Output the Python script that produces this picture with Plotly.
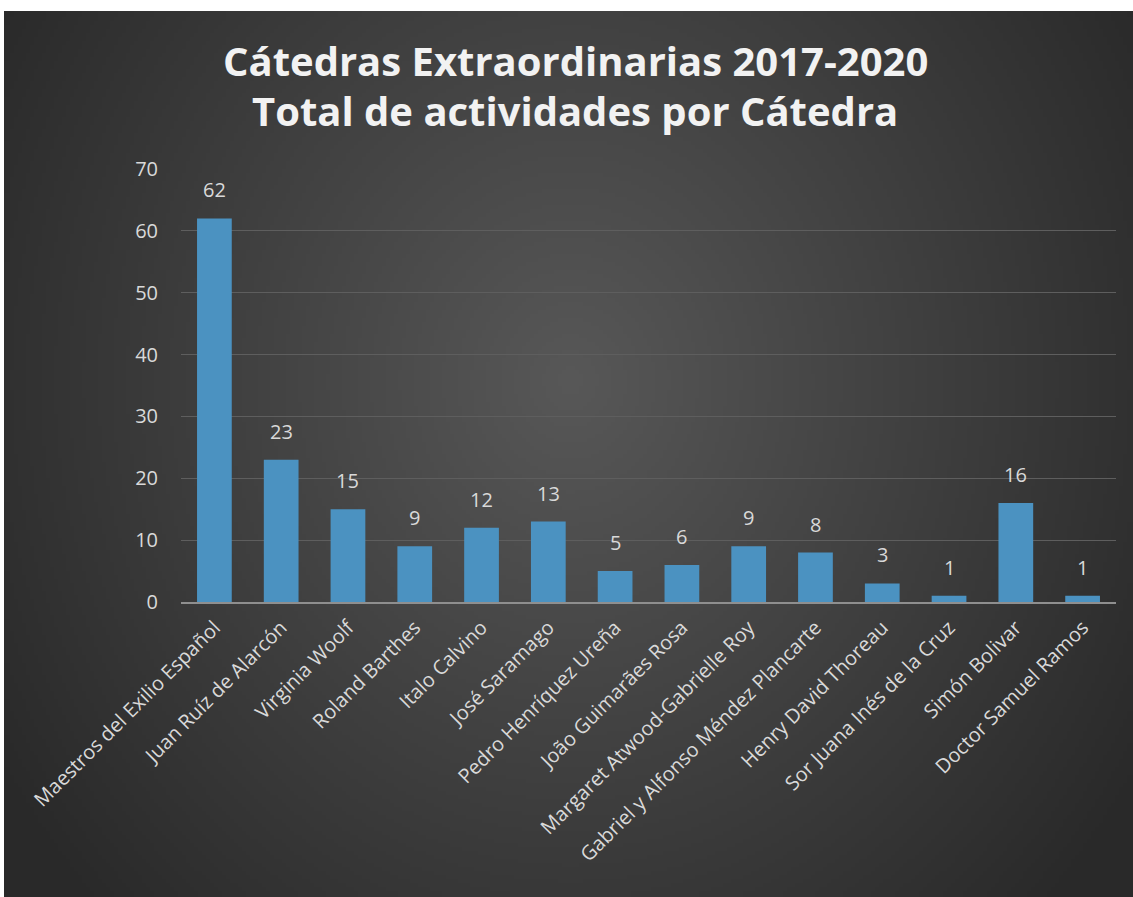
import base64, struct, zlib
import numpy as np
import plotly.graph_objects as go

# ---- data ----
categories = [
    "Maestros del Exilio Español", "Juan Ruíz de Alarcón", "Virginia Woolf",
    "Roland Barthes", "Italo Calvino", "José Saramago", "Pedro Henríquez Ureña",
    "João Guimarães Rosa", "Margaret Atwood-Gabrielle Roy",
    "Gabriel y Alfonso Méndez Plancarte", "Henry David Thoreau",
    "Sor Juana Inés de la Cruz", "Simón Bolivar", "Doctor Samuel Ramos",
]
values = [62, 23, 15, 9, 12, 13, 5, 6, 9, 8, 3, 1, 16, 1]
y_ticks = [0, 10, 20, 30, 40, 50, 60, 70]
title_lines = ["Cátedras Extraordinarias 2017-2020", "Total de actividades por Cátedra"]

W, H = 1133, 897
L, R, T, B = 181, 1116, 169, 602  # plot area pixels


# ---- radial gradient background image ----
def make_png(w, h, scale):
    xs = (np.arange(w) + 0.5) * scale + 4
    ys = (np.arange(h) + 0.5) * scale + 11
    X, Y = np.meshgrid(xs, ys)
    t = np.sqrt(((X - 570) / 675.0) ** 2 + ((Y - 380) / 760.0) ** 2)
    t = np.clip(t, 0, 1)
    c = (0x58 - (0x58 - 0x29) * t).astype(np.uint8)
    img = np.stack([c, c, c], axis=-1)
    raw = b"".join(b"\x00" + img[i].tobytes() for i in range(h))

    def chunk(tag, data):
        return (struct.pack(">I", len(data)) + tag + data
                + struct.pack(">I", zlib.crc32(tag + data) & 0xffffffff))

    png = (b"\x89PNG\r\n\x1a\n"
           + chunk(b"IHDR", struct.pack(">IIBBBBB", w, h, 8, 2, 0, 0, 0))
           + chunk(b"IDAT", zlib.compress(raw, 9))
           + chunk(b"IEND", b""))
    return "data:image/png;base64," + base64.b64encode(png).decode()


bg_w, bg_h = W - 4, H - 11
scale = 4
src = make_png(bg_w // scale, bg_h // scale, scale)

pw, ph = R - L, B - T
img_x = (4 - L) / pw
img_y = (B - 11) / ph
img_sx = bg_w / pw
img_sy = bg_h / ph

fig = go.Figure()
fig.add_trace(go.Bar(
    x=categories, y=values,
    marker=dict(color="#4b92c1", line=dict(width=0)),
    width=0.52,
    hoverinfo="x+y",
))

for c, v in zip(categories, values):
    fig.add_annotation(x=c, y=v, text=str(v), showarrow=False,
                       yanchor="bottom", yshift=13,
                       font=dict(family="Open Sans", size=20, color="#d9d9d9"))

for i, (line, yc) in enumerate(zip(title_lines, [60, 110])):
    fig.add_annotation(xref="paper", yref="paper",
                       x=(575 - L) / pw, y=(B - yc) / ph,
                       xanchor="center", yanchor="middle",
                       text=f"<b>{line}</b>", showarrow=False,
                       font=dict(family="Open Sans", size=40, color="#f2f2f2"))

fig.update_layout(
    width=W, height=H,
    margin=dict(l=L, r=W - R, t=T, b=H - B, autoexpand=False),
    paper_bgcolor="white",
    plot_bgcolor="rgba(0,0,0,0)",
    template="none",
    showlegend=False,
    images=[dict(source=src, xref="paper", yref="paper",
                 x=img_x, y=img_y, sizex=img_sx, sizey=img_sy,
                 xanchor="left", yanchor="top", sizing="stretch",
                 layer="below")],
    xaxis=dict(
        tickangle=-45, showgrid=False, ticks="", automargin=False,
        showline=True, linecolor="#8f8f8f", linewidth=2,
        tickfont=dict(family="Open Sans", size=20, color="#d9d9d9"),
        zeroline=False, ticklabelstandoff=4,
    ),
    yaxis=dict(
        range=[0, 70], tickvals=y_ticks, showgrid=True, gridcolor="#5e5e5e",
        gridwidth=1, zeroline=False, showline=False, ticks="",
        automargin=False, ticklabelstandoff=22,
        tickfont=dict(family="Open Sans", size=20, color="#d9d9d9"),
    ),
    bargap=0.48,
)

fig.write_html("out.html",
               config={"displayModeBar": False},
               post_script="document.body.style.margin='0';document.body.style.overflow='hidden';")
